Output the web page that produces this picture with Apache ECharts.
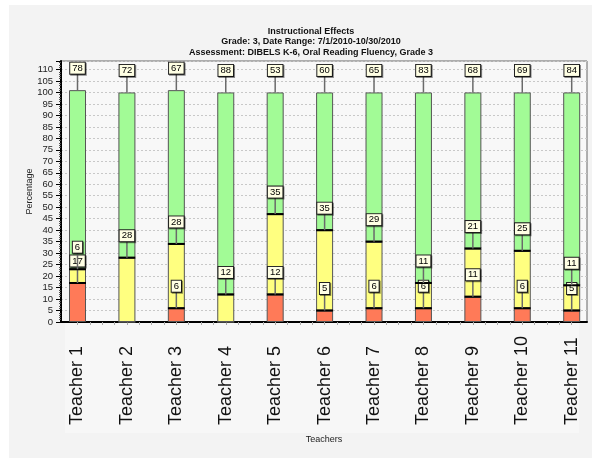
<!DOCTYPE html>
<html>
<head>
<meta charset="utf-8">
<script src="https://cdn.jsdelivr.net/npm/echarts@6/dist/echarts.min.js"></script>
<style>
html,body{margin:0;padding:0;background:#ffffff;}
#chart{width:592px;height:458px;}
</style>
</head>
<body>
<div id="chart"></div>
<script>
var categories = ['Teacher 1','Teacher 2','Teacher 3','Teacher 4','Teacher 5','Teacher 6','Teacher 7','Teacher 8','Teacher 9','Teacher 10','Teacher 11'];
var redValues = [17, 0, 6, 0, 12, 5, 6, 6, 11, 6, 5];
var yellowValues = [6, 28, 28, 12, 35, 35, 29, 11, 21, 25, 11];
var greenValues = [78, 72, 67, 88, 53, 60, 65, 83, 68, 69, 84];
var titleLines = ['Instructional Effects', 'Grade: 3, Date Range: 7/1/2010-10/30/2010', 'Assessment: DIBELS K-6, Oral Reading Fluency, Grade 3'];
var yAxisTitle = 'Percentage';
var xAxisTitle = 'Teachers';

var Y_MAX = 113.7;

// label layer data: [index, cumulativeTop, value, separator]
var labelData = [];
[redValues, yellowValues, greenValues].forEach(function (arr, layer) {
  arr.forEach(function (v, i) {
    var top = redValues[i];
    if (layer >= 1) top += yellowValues[i];
    if (layer >= 2) top += greenValues[i];
    if (v > 0) labelData.push([i, top, v, layer < 2 ? 1 : 0]);
  });
});

var chart = echarts.init(document.getElementById('chart'), null, {renderer: 'canvas'});
var FONT = '"Liberation Sans", Arial, sans-serif';

chart.setOption({
  animation: false,
  backgroundColor: '#ffffff',
  graphic: [
    {type: 'rect', z: -10, shape: {x: 9, y: 5, width: 583, height: 453}, style: {fill: '#f3f3f3'}},
    {type: 'rect', z: -9, shape: {x: 65, y: 322, width: 514, height: 111}, style: {fill: '#f7f7f7'}}
  ],
  title: {
    text: titleLines.join('\n'),
    left: 306,
    textAlign: 'center',
    top: 21,
    textStyle: {fontFamily: FONT, fontSize: 9, fontWeight: 'bold', color: '#111', lineHeight: 10.5}
  },
  grid: [
    {left: 61, right: 5, top: 61, bottom: 136, show: true, backgroundColor: '#f8f8f8', borderColor: '#666', borderWidth: 1, containLabel: false},
    {left: 77.5, right: 20.3, top: 61, bottom: 136, containLabel: false}
  ],
  xAxis: [
    {
      gridIndex: 0, type: 'value', min: 0, max: 1,
      name: xAxisTitle, nameLocation: 'middle', nameGap: 113, nameMoveOverlap: false,
      nameTextStyle: {fontFamily: FONT, fontSize: 9, color: '#222'},
      axisLine: {show: true, lineStyle: {color: '#000', width: 2}},
      axisTick: {show: false}, axisLabel: {show: false}, splitLine: {show: false}
    },
    {
      gridIndex: 1, type: 'category', data: categories, boundaryGap: false, position: 'bottom',
      axisLine: {show: false}, axisTick: {show: false}, splitLine: {show: false},
      axisLabel: {interval: 0, rotate: 90, align: 'left', verticalAlign: 'middle', margin: 103,
        fontFamily: FONT, fontSize: 18, color: '#111'}
    },
    {
      gridIndex: 1, type: 'value', min: 0, max: 10, interval: 0.25, position: 'bottom',
      axisLine: {show: false}, axisLabel: {show: false}, splitLine: {show: false},
      axisTick: {show: true, length: 3, lineStyle: {color: '#aaa', width: 1}}
    }
  ],
  yAxis: [
    {
      gridIndex: 0, type: 'value', min: 0, max: Y_MAX, interval: 5,
      name: yAxisTitle, nameLocation: 'middle', nameGap: 27, nameRotate: 90, nameMoveOverlap: false,
      nameTextStyle: {fontFamily: FONT, fontSize: 9, color: '#222'},
      axisLine: {show: true, lineStyle: {color: '#000', width: 2}},
      axisTick: {show: true, length: 5, lineStyle: {color: '#000', width: 1}},
      minorTick: {show: true, splitNumber: 5, length: 2, lineStyle: {color: '#555', width: 1}},
      axisLabel: {showMaxLabel: false, margin: 8, fontFamily: FONT, fontSize: 9.5, color: '#222'},
      splitLine: {show: true, lineStyle: {color: '#c8c8c8', type: [2, 2], width: 1}}
    },
    {gridIndex: 1, type: 'value', min: 0, max: Y_MAX, show: false, splitLine: {show: false}}
  ],
  series: [
    {name: 'Red', type: 'bar', stack: 'p', xAxisIndex: 1, yAxisIndex: 1, barWidth: 17, clip: false,
      data: redValues, itemStyle: {color: '#ff7a58', borderColor: '#555', borderWidth: 1}},
    {name: 'Yellow', type: 'bar', stack: 'p', xAxisIndex: 1, yAxisIndex: 1, barWidth: 17, clip: false,
      data: yellowValues, itemStyle: {color: '#ffff80', borderColor: '#555', borderWidth: 1}},
    {name: 'Green', type: 'bar', stack: 'p', xAxisIndex: 1, yAxisIndex: 1, barWidth: 17, clip: false,
      data: greenValues, itemStyle: {color: '#a2fb96', borderColor: '#555', borderWidth: 1}},
    {
      name: 'Labels', type: 'custom', xAxisIndex: 1, yAxisIndex: 1, clip: false, z: 10,
      data: labelData,
      renderItem: function (params, api) {
        var idx = api.value(0), top = api.value(1), v = api.value(2), sep = api.value(3);
        var p = api.coord([idx, top]);
        var children = [];
        if (sep) {
          children.push({type: 'line', shape: {x1: p[0] - 8.5, y1: p[1], x2: p[0] + 8.5, y2: p[1]},
            style: {stroke: '#000', lineWidth: 2}});
        }
        children.push({type: 'line', shape: {x1: p[0], y1: p[1], x2: p[0], y2: p[1] - 17},
          style: {stroke: '#6a6a6a', lineWidth: 1.5}});
        children.push({type: 'text', x: p[0], y: p[1] - 22,
          style: {text: String(v), align: 'center', verticalAlign: 'middle', fill: '#000',
            font: '9.5px "Liberation Sans", Arial, sans-serif',
            backgroundColor: '#ffffe4', borderColor: '#222', borderWidth: 1, padding: [1, 2, 0, 2],
            shadowColor: 'rgba(0,0,0,0.45)', shadowOffsetX: 1, shadowOffsetY: 1}});
        return {type: 'group', children: children};
      }
    }
  ]
});
</script>
</body>
</html>
